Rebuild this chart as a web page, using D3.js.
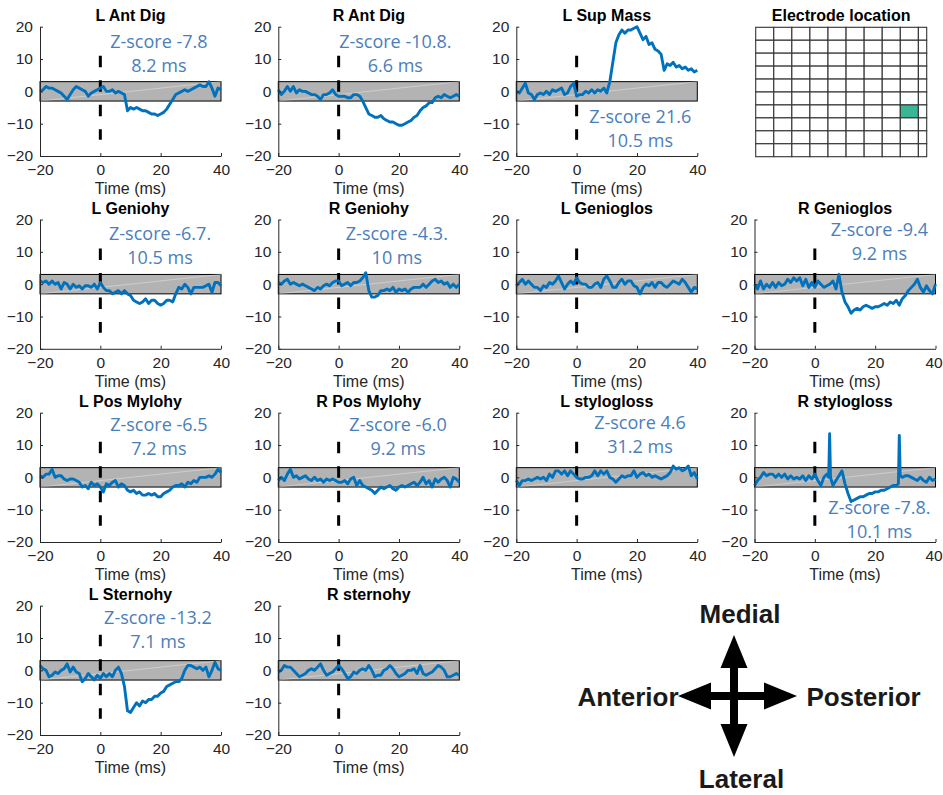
<!DOCTYPE html>
<html>
<head>
<meta charset="utf-8">
<script src="https://cdn.jsdelivr.net/npm/d3@7"></script>
<style>
  body { margin: 0; background: #fff; }
  svg { display: block; }
</style>
</head>
<body>
<script>
// time base (ms), one sample per ms from -20 to 40
const timeMs = [-20,-19,-18,-17,-16,-15,-14,-13,-12,-11,-10,-9,-8,-7,-6,-5,-4,-3,-2,-1,
  0,1,2,3,4,5,6,7,8,9,10,11,12,13,14,15,16,17,18,19,20,21,22,23,24,25,26,27,28,29,
  30,31,32,33,34,35,36,37,38,39,40];

// z-scored responses
const lAntDig = [0,0.5,1.5,1,1,0.5,0,-0.5,-1.5,-2.5, -1,0.5,1.5,1,0.5,0,-1.5,-0.5,0,0.5,
  1,1.5,0,0,0.5,-0.5,0,-0.5,-1,-6, -5,-5.5,-5,-5.5,-6,-6,-6.5,-7,-7,-7.5,
  -7,-6.5,-5.5,-4,-2.5,-1,-0.5,0,0.5,0, 0.5,1,1.5,2,1.5,1.5,3,1,-1.5,1,0.5];
const rAntDig = [0.5,-1,0,1.5,0,1.5,-0.5,0.5,0,0, -0.5,-1,-1,-1.5,-2.5,-1,-1,-0.5,0.5,-1,
  -1.5,-1.5,-1.5,-2,-2,-1,-1,-1.5,-3,-5, -7,-7.5,-8,-8,-7.5,-8.5,-9,-9.5,-9.5,-10,
  -10.5,-10.5,-10,-9.5,-9,-8,-7.5,-6,-5,-4.5, -3.5,-3.5,-2,-1.5,-2,-1,-1.5,-2,-1.5,-1,-1.5];
const lSupMass = [0,-0.5,1,2.5,-0.5,-1,-2.5,-1,-0.5,-1, 0,-1,0.5,0,0.5,1,-1,-0.5,1.5,2.5,
  -1.5,-1,-1,0,-0.5,0.5,-0.5,0.5,0,1, -0.5,3,9,15,17.5,19,18,19,19,19.5,
  20,18,16,17,14.5,15,13,12.5,11.5,6.5, 8.5,8,9,7.5,8,7,7.5,6.5,7,6,6.5];
const lGeniohy = [1,0.5,1,0,1,0,0.5,-1.5,0.5,0, -1.5,0,-1,-0.5,-1.5,-0.5,-0.5,-1,0,-1.5,
  0.5,-1,-2,-2,-3,-2.5,-2,-3,-2,-3, -3.5,-5,-5.5,-6,-5.5,-4.5,-6,-5,-5,-6,
  -6.5,-6,-5,-5,-5.5,-3,-1,-1.5,0,-1, -3,-1,-1,-1,-1,-0.5,0,-2.5,0.5,0.5,-0.5];
const rGeniohy = [0.5,0,1,1.5,0,0.5,0,-0.5,0,-0.5, -1,-1.5,-2,-1,-1.5,-0.5,0,-0.5,0.5,1,
  1,-0.5,0,0.5,-0.5,0.5,0.5,1,2,3.5, -2,-4,-4,-3.5,-2,-2,-1.5,-2,-1,-2.5,
  -1.5,-2,-1.5,-2.5,-1.5,-1,-1,-1,0,-1, 0,1,1.5,0.5,1,0,0.5,-1,0,-1,0];
const lGenioglos = [-0.5,0.5,1.5,0,1,0,-1,-1,-2,-0.5, -1,0.5,0,1,2.5,0.5,-1.5,0,1,0,
  2,0.5,0,0,-1,-1,0,0.5,-1,1.5, 2.5,1,-1,-1,0.5,1.5,0,1,1,-0.5,
  -1,-3,-1,0,-0.5,0.5,-1,0.5,0.5,-0.5, -1,0,1,0.5,0,1.5,0.5,-1,-2.5,-1,-1.5];
const rGenioglos = [0,-1.5,1,-1.5,0,-1,0.5,-1,0.5,-0.5, 0,1.5,0.5,2,1,2,-0.5,1.5,-1,0.5,
  -1,1,0,-1,-0.5,0,1,-1.5,3,-2.5, -5.5,-7,-9,-8,-7.5,-8,-7,-6.5,-7,-7.5,
  -7,-7,-6.5,-6,-6.5,-5.5,-6,-5,-6.5,-4.5, -3.5,-2,-1,0,1.5,-1,-2.5,-0.5,-2,-3,0];
const lPosMylohy = [0.5,0,1,1,2.5,0,0.5,0.5,-0.5,-1, -0.5,-0.5,-1,-1.5,-3,-2.5,-3.5,-1.5,-2.5,-2,
  -3,-4.5,-2,-2.5,-1.5,-1,-3,-2,-2.5,-4, -4.5,-4,-5,-4.5,-5.5,-5.5,-5,-5.5,-5,-6,
  -6,-5,-4.5,-4,-3,-2.5,-2.5,-2,-3,-1.5, -2,-1,-1.5,0,0,0,0.5,0,1,2.5,1.5];
const rPosMylohy = [-1,0,-1,1,2.5,0,0.5,-0.5,0,0.5, -0.5,-1,0,-1,-0.5,-1.5,-0.5,-1,-0.5,-1,
  -1.5,-1.5,-1,-2,-0.5,0,-2.5,-1,-2.5,-3, -3.5,-4,-5,-4,-3,-3.5,-3,-2.5,-3.5,-4,
  -3,-2.5,-3,-2.5,-2,-1.5,-2.5,-1.5,0,-2, -1,-3,-0.5,-1.5,-0.5,0,-1,-3,0,-0.5,-1.5];
const lStylogloss = [-1,-2.5,-1,-1,-0.5,-1,-0.5,0,-0.5,0, -1,1,0,2,2,1,2,0.5,2,1,
  0,-0.5,-0.5,0,0,0.5,2,0.5,2,1, 2,0,-0.5,-1.5,-0.5,0.5,0,0.5,0.5,2,
  0,1,1.5,0.5,1,0,0.5,0,-0.5,0, 0.5,1.5,3.5,2.5,3,2,2.5,3.5,0.5,1.5,-0.5];
// R stylogloss has two narrow artefact spikes, so it keeps its own time base
const rStyloTime = [-20,-19,-18,-17,-16,-15,-14,-13,-12,-11,-10,-9,-8,-7,-6,-5,-4,-3,-2,-1,
  0,1,2,3,4,4.6,4.9,5.2,6,7,8,9,10,11,12,13,14,15,16,17,18,19,20,21,22,23,24,25,26,27,
  27.7,28,28.3,29,30,31,32,33,34,35,36,37,38,39,40];
const rStylogloss = [-2.5,-1,0,1.5,0.5,1,1,0,1,0, 1,-0.5,0.5,-0.5,0,-0.5,0.5,-1,0.5,-0.5,
  1,-1,-2.5,0,1,0,13.5,0, -2.5,-1,0.5,2, -2,-5,-7.5,-7,-6.5,-6,-6,-5.5,-5,-5,
  -4.5,-4.5,-4,-4,-3.5,-3,-2.5,-2.5, -2,13,0.5, 0,0.5,0.5,0,-0.5,-1,0,-1,-1.5,0,-1,-0.5];
const lSternohy = [1.5,0.5,0,-2,-1.5,-0.5,-1,0,0.5,2, -0.5,1,-0.5,-1,-3.5,-2.5,-1,-2,-3,-1.5,
  -2.5,-1,-2,-1,-2,0,1,-1,-5,-12.5, -13,-11.5,-10,-11,-9.5,-10,-9,-9,-8,-8,
  -7,-6.5,-5,-4.5,-4,-3.5,-3.5,-2.5,0,1.5, 1.5,1,0.5,1,0,1,-2,0,2.5,0.5,0];
const rSternohy = [-0.5,0,1.5,1,1,0,-1,-2,-1.5,-1, 0,0.5,0,1,2,0,-1.5,-1,-0.5,0.5,
  1.5,0.5,-1,-2.5,-2,-0.5,-1,0,0.5,0, 1.5,0,-2,-1.5,-1.5,0,0.5,1.5,0.5,-1,
  -2,-1.5,-1,0,0,0.5,-1,1.5,-1,-1.5, -1,-0.5,0.5,1.5,1,0,-2,-2,-1.5,-1,-1.5];

const xTicks = [-20, 0, 20, 40];
const yTicks = [-20, -10, 0, 10, 20];
const threshold = 3;          // grey band, +/- z
const stimLine = [-15, 11];   // dashed marker at t = 0

// panels: title, grid slot, trace, annotation
const panels = [
  { title: "L Ant Dig", col: 0, row: 0, t: timeMs, v: lAntDig, note: ["Z-score -7.8", "8.2 ms"], at: [19.4, 15.4] },
  { title: "R Ant Dig", col: 1, row: 0, t: timeMs, v: rAntDig, note: ["Z-score -10.8.", "6.6 ms"], at: [18.8, 15.4] },
  { title: "L Sup Mass", col: 2, row: 0, t: timeMs, v: lSupMass, note: ["Z-score 21.6", "10.5 ms"], at: [21.1, -7.9] },
  { title: "L Geniohy", col: 0, row: 1, t: timeMs, v: lGeniohy, note: ["Z-score -6.7.", "10.5 ms"], at: [19.8, 15.5] },
  { title: "R Geniohy", col: 1, row: 1, t: timeMs, v: rGeniohy, note: ["Z-score -4.3.", "10 ms"], at: [19.3, 15.5] },
  { title: "L Genioglos", col: 2, row: 1, t: timeMs, v: lGenioglos, note: null },
  { title: "R Genioglos", col: 3, row: 1, t: timeMs, v: rGenioglos, note: ["Z-score -9.4", "9.2 ms"], at: [21.4, 16.7] },
  { title: "L Pos Mylohy", col: 0, row: 2, t: timeMs, v: lPosMylohy, note: ["Z-score -6.5", "7.2 ms"], at: [19.4, 16.2] },
  { title: "R Pos Mylohy", col: 1, row: 2, t: timeMs, v: rPosMylohy, note: ["Z-score -6.0", "9.2 ms"], at: [19.7, 16.2] },
  { title: "L stylogloss", col: 2, row: 2, t: timeMs, v: lStylogloss, note: ["Z-score 4.6", "31.2 ms"], at: [21.0, 16.8] },
  { title: "R stylogloss", col: 3, row: 2, t: rStyloTime, v: rStylogloss, note: ["Z-score -7.8.", "10.1 ms"], at: [21.4, -9.5] },
  { title: "L Sternohy", col: 0, row: 3, t: timeMs, v: lSternohy, note: ["Z-score -13.2", "7.1 ms"], at: [19.1, 16.2] },
  { title: "R sternohy", col: 1, row: 3, t: timeMs, v: rSternohy, note: null }
];

// electrode grid
const gridCols = 10, gridRows = 10;
const activeCell = { col: 8, row: 6 };

const directions = [
  { label: "Medial", dx: 0, dy: -1 },
  { label: "Lateral", dx: 0, dy: 1 },
  { label: "Anterior", dx: -1, dy: 0 },
  { label: "Posterior", dx: 1, dy: 0 }
];

function drawFigure() {
  const width = 943, height = 795;
  const colX = [40, 278.3, 516.3, 754.5];
  const rowY = [26.7, 219.5, 412.7, 605.7];
  const plotW = 181, plotH = 129.3;
  const axisFont = "'Liberation Sans', Arial, Helvetica, sans-serif";
  const axisColor = "#262626";

  const svg = d3.create("svg")
    .attr("width", width)
    .attr("height", height)
    .style("font-family", axisFont);

  const x = d3.scaleLinear().domain([-20, 40]).range([0, plotW]);
  const y = d3.scaleLinear().domain([-20, 20]).range([plotH, 0]);

  panels.forEach(p => {
    const g = svg.append("g")
      .attr("transform", `translate(${colX[p.col]},${rowY[p.row]})`);

    // threshold band
    g.append("rect")
      .attr("x", x(-20))
      .attr("y", y(threshold))
      .attr("width", x(40) - x(-20))
      .attr("height", y(-threshold) - y(threshold))
      .attr("fill", "#b3b3b3")
      .attr("stroke", "#000")
      .attr("stroke-width", 1);

    // faint diagonal seam of the patch
    g.append("line")
      .attr("x1", x(-20)).attr("y1", y(-threshold))
      .attr("x2", x(40)).attr("y2", y(threshold))
      .attr("stroke", "#fff")
      .attr("stroke-opacity", 0.35)
      .attr("stroke-width", 1);

    g.append("line")
      .attr("x1", x(0)).attr("x2", x(0))
      .attr("y1", y(stimLine[1])).attr("y2", y(stimLine[0]))
      .attr("stroke", "#000")
      .attr("stroke-width", 3)
      .attr("stroke-dasharray", "11.5,13");

    const line = d3.line()
      .x((d, i) => x(p.t[i]))
      .y(d => y(d));

    g.append("path")
      .datum(p.v)
      .attr("d", line)
      .attr("fill", "none")
      .attr("stroke", "#0072bd")
      .attr("stroke-width", 2.9)
      .attr("stroke-linejoin", "round");

    // axes, MATLAB style: box off, ticks inside
    const yAxis = g.append("g")
      .call(d3.axisLeft(y).tickValues(yTicks).tickSizeInner(-3).tickSizeOuter(0).tickPadding(7));
    const xAxis = g.append("g")
      .attr("transform", `translate(0,${plotH})`)
      .call(d3.axisBottom(x).tickValues(xTicks).tickSizeInner(-3).tickSizeOuter(0).tickPadding(8));
    [yAxis, xAxis].forEach(a => {
      a.selectAll("path, line").attr("stroke", axisColor);
      a.selectAll("text")
        .attr("fill", axisColor)
        .style("font-size", "15.5px")
        .style("font-family", axisFont);
    });
    // last column touches the page edge: pull its "40" in a little
    if (p.col === 3) {
      xAxis.selectAll(".tick text").filter(d => d === 40).attr("dx", -2);
    }

    g.append("text")
      .attr("x", plotW / 2)
      .attr("y", plotH + 38)
      .attr("text-anchor", "middle")
      .attr("fill", axisColor)
      .style("font-size", "16px")
      .text("Time (ms)");

    g.append("text")
      .attr("x", plotW / 2)
      .attr("y", -6)
      .attr("text-anchor", "middle")
      .attr("fill", "#000")
      .style("font-size", "16px")
      .style("font-weight", "bold")
      .text(p.title);

    if (p.note) {
      const note = g.append("text")
        .attr("text-anchor", "middle")
        .attr("fill", "#4a7ebb")
        .style("font-family", "'Open Sans', 'Noto Sans', sans-serif")
        .style("font-size", "18px");
      p.note.forEach((s, i) => {
        note.append("tspan")
          .attr("x", x(p.at[0]))
          .attr("y", y(p.at[1]) + 6 + i * 24)
          .text(s);
      });
    }
  });

  // electrode location grid
  const grid = svg.append("g");
  const gx = d3.scaleLinear().domain([0, 9.46]).range([755.7, 926.7]);
  const gy = d3.scaleLinear().domain([0, gridRows]).range([27.3, 156.7]);
  const cells = d3.cross(d3.range(gridCols), d3.range(gridRows));

  grid.selectAll("rect.cell")
    .data(cells)
    .join("rect")
    .attr("class", "cell")
    .attr("x", d => gx(d[0]))
    .attr("y", d => gy(d[1]))
    .attr("width", d => Math.min(gx(d[0] + 1), gx.range()[1]) - gx(d[0]))
    .attr("height", d => gy(d[1] + 1) - gy(d[1]))
    .attr("fill", d => (d[0] === activeCell.col && d[1] === activeCell.row) ? "#39b795" : "#fff")
    .attr("stroke", "#333")
    .attr("stroke-width", 1.1);

  grid.append("text")
    .attr("x", (gx.range()[0] + gx.range()[1]) / 2)
    .attr("y", 20.5)
    .attr("text-anchor", "middle")
    .style("font-size", "16px")
    .style("font-weight", "bold")
    .text("Electrode location");

  // orientation compass
  const cx = 734, cy = 696;
  const arm = { left: 56, right: 63, up: 61, down: 61 };
  const shaft = 4, headHalf = 13.5, headLen = 33;
  const compass = svg.append("g").attr("fill", "#000");

  compass.append("rect")
    .attr("x", cx - shaft).attr("y", cy - arm.up + headLen - 1)
    .attr("width", shaft * 2).attr("height", arm.up + arm.down - 2 * headLen + 2);
  compass.append("rect")
    .attr("x", cx - arm.left + headLen - 1).attr("y", cy - shaft)
    .attr("width", arm.left + arm.right - 2 * headLen + 2).attr("height", shaft * 2);

  const head = d3.line();
  directions.forEach(dir => {
    const len = dir.dx < 0 ? arm.left : dir.dx > 0 ? arm.right : dir.dy < 0 ? arm.up : arm.down;
    const tip = [cx + dir.dx * len, cy + dir.dy * len];
    const base = [cx + dir.dx * (len - headLen), cy + dir.dy * (len - headLen)];
    const px = -dir.dy, py = dir.dx;
    compass.append("path")
      .attr("d", head([tip,
        [base[0] + px * headHalf, base[1] + py * headHalf],
        [base[0] - px * headHalf, base[1] - py * headHalf]]) + "Z");
  });

  const labelPos = {
    Medial: { x: 740, y: 623, anchor: "middle" },
    Lateral: { x: 741.5, y: 788, anchor: "middle" },
    Anterior: { x: 678.5, y: 706, anchor: "end" },
    Posterior: { x: 806.5, y: 706, anchor: "start" }
  };
  svg.append("g")
    .selectAll("text")
    .data(directions)
    .join("text")
    .attr("x", d => labelPos[d.label].x)
    .attr("y", d => labelPos[d.label].y)
    .attr("text-anchor", d => labelPos[d.label].anchor)
    .attr("fill", "#1a1a1a")
    .style("font-size", "26px")
    .style("font-weight", "bold")
    .text(d => d.label);

  document.body.appendChild(svg.node());
}

drawFigure();
</script>
</body>
</html>
